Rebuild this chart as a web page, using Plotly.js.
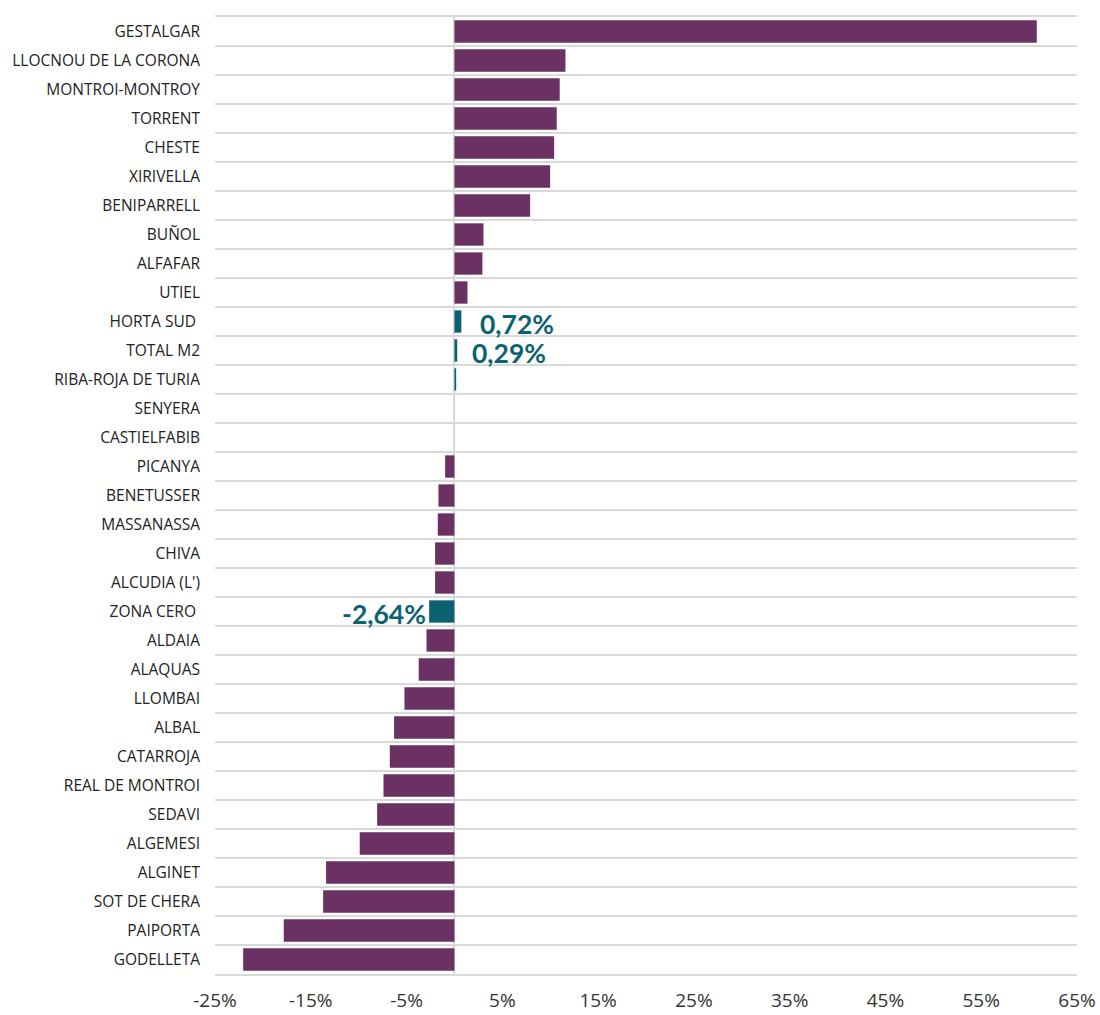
<!DOCTYPE html>
<html>
<head>
<meta charset="utf-8">
<script src="https://cdn.plot.ly/plotly-3.0.1.min.js"></script>
<style>html,body{margin:0;padding:0;background:#fff;}#chart{width:1100px;height:1015px;}</style>
</head>
<body>
<div id="chart"></div>
<script>
const categories = [
  "GESTALGAR","LLOCNOU DE LA CORONA","MONTROI-MONTROY","TORRENT","CHESTE","XIRIVELLA",
  "BENIPARRELL","BUÑOL","ALFAFAR","UTIEL","HORTA SUD\u00a0","TOTAL M2","RIBA-ROJA DE TURIA",
  "SENYERA","CASTIELFABIB","PICANYA","BENETUSSER","MASSANASSA","CHIVA","ALCUDIA (L')",
  "ZONA CERO\u00a0","ALDAIA","ALAQUAS","LLOMBAI","ALBAL","CATARROJA","REAL DE MONTROI",
  "SEDAVI","ALGEMESI","ALGINET","SOT DE CHERA","PAIPORTA","GODELLETA"
];
const values = [
  60.8, 11.59, 10.99, 10.68, 10.41, 9.99,
  7.90, 3.03, 2.92, 1.36, 0.72, 0.29, 0.18,
  0, 0, -0.97, -1.67, -1.74, -2.02, -2.02,
  -2.64, -2.92, -3.73, -5.22, -6.30, -6.75, -7.41,
  -8.07, -9.89, -13.40, -13.71, -17.82, -22.06
];
const highlighted = ["HORTA SUD\u00a0","TOTAL M2","RIBA-ROJA DE TURIA","ZONA CERO\u00a0"];
const labelled = {"HORTA SUD\u00a0":"0,72%","TOTAL M2":"0,29%","ZONA CERO\u00a0":"-2,64%"};
const tickVals = [-25,-15,-5,5,15,25,35,45,55,65];
const tickText = ["-25%","-15%","-5%","5%","15%","25%","35%","45%","55%","65%"];

const purple = "#6a3162";
const teal = "#0d6271";
const colors = categories.map(c => highlighted.includes(c) ? teal : purple);

const annotations = categories.filter(c => labelled[c]).map(c => {
  const v = values[categories.indexOf(c)];
  const neg = v < 0;
  return {
    x: v, y: c, xref: "x", yref: "y",
    text: labelled[c], showarrow: false,
    xanchor: neg ? "right" : "left",
    yanchor: "middle",
    xshift: neg ? -2 : (c === "TOTAL M2" ? 14 : 18),
    yshift: -2,
    borderpad: 0,
    font: {family: "Lato, 'Open Sans', sans-serif", size: 26.5, color: teal, weight: 700}
  };
});

const trace = {
  type: "bar", orientation: "h",
  y: categories, x: values,
  marker: {color: colors, line: {width: 0}},
  width: 0.77,
  hoverinfo: "x+y"
};

const layout = {
  width: 1100, height: 1015,
  margin: {l: 215, r: 23, t: 17, b: 41},
  paper_bgcolor: "#fff", plot_bgcolor: "#fff",
  showlegend: false,
  font: {family: "'Open Sans', 'Noto Sans', sans-serif", color: "#222"},
  xaxis: {
    range: [-25, 65],
    tickmode: "array", tickvals: tickVals, ticktext: tickText,
    showgrid: false,
    zeroline: true, zerolinecolor: "#d9d9d9", zerolinewidth: 2,
    showline: true, mirror: true, linecolor: "#d9d9d9", linewidth: 2,
    ticks: "outside", ticklen: 8, tickcolor: "rgba(0,0,0,0)",
    tickfont: {size: 19, color: "#333"},
    fixedrange: true
  },
  yaxis: {
    type: "category",
    autorange: "reversed",
    tickson: "boundaries",
    showgrid: true, gridcolor: "#d9d9d9", gridwidth: 2,
    zeroline: false,
    ticks: "",
    ticklabelstandoff: 14,
    tickfont: {size: 15.5, color: "#222"},
    fixedrange: true
  },
  annotations: annotations,
  bargap: 0.23
};

Plotly.newPlot("chart", [trace], layout, {displayModeBar: false, staticPlot: true});
</script>
</body>
</html>
